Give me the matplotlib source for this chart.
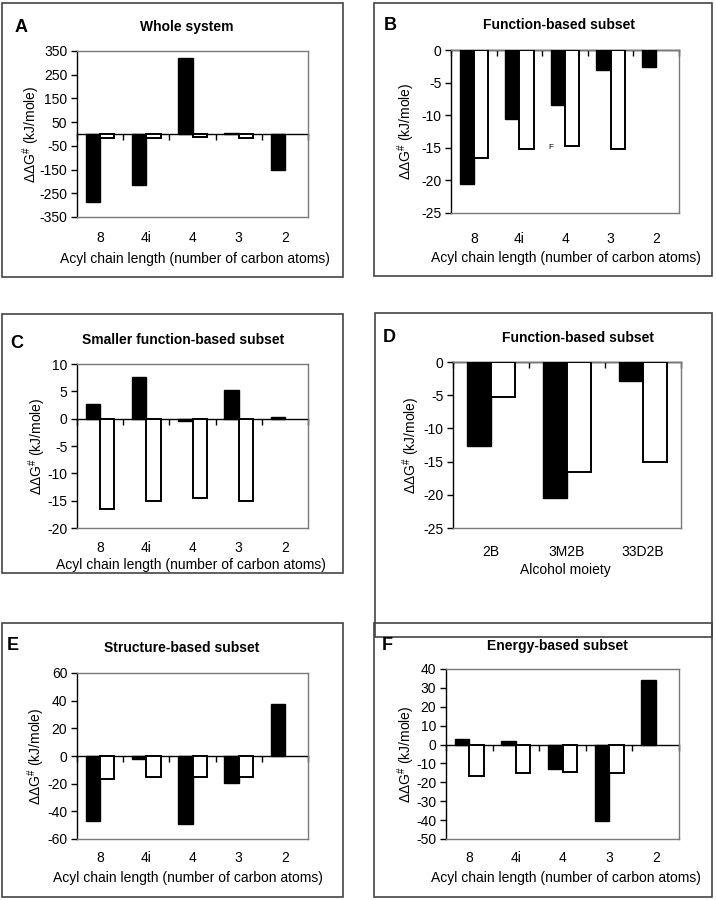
import numpy as np
import matplotlib
matplotlib.use('Agg')
import matplotlib.pyplot as plt
from matplotlib.patches import Rectangle

plt.rcParams['font.family'] = 'Liberation Sans'
plt.rcParams['font.size'] = 10
plt.rcParams['axes.unicode_minus'] = False
plt.rcParams['mathtext.fontset'] = 'custom'
plt.rcParams['mathtext.rm'] = 'Liberation Sans'
plt.rcParams['mathtext.it'] = 'Liberation Sans:italic'
plt.rcParams['mathtext.bf'] = 'Liberation Sans:bold'

nan = np.nan

# data
acyl = ['8', '4i', '4', '3', '2']
alcohol = ['2B', '3M2B', '33D2B']

a_black = [-287, -216, 320, 4, -152]
a_white = [-16.5, -15.2, -14.7, -15.2, nan]
b_black = [-20.6, -10.6, -8.4, -3.0, -2.6]
b_white = [-16.6, -15.2, -14.8, -15.2, nan]
c_black = [2.6, 7.6, -0.5, 5.2, 0.3]
c_white = [-16.5, -15.1, -14.6, -15.1, nan]
d_black = [-12.6, -20.5, -2.9]
d_white = [-5.2, -16.5, -15.1]
e_black = [-47, -2.4, -49.4, -19.4, 37.7]
e_white = [-16.3, -15.4, -14.9, -15.4, nan]
f_black = [2.9, 1.9, -12.8, -40.5, 34.4]
f_white = [-16.5, -15.1, -14.5, -15.1, nan]

W, H = 716, 900
fig = plt.figure(figsize=(W / 100, H / 100), dpi=100)


def rect(l, t, r, b):
    return [l / W, 1 - b / H, (r - l) / W, (b - t) / H]


def ftext(x, y, s, **kw):
    fig.text(x / W, 1 - y / H, s, ha='center', va='center', **kw)


ylab = r'$\Delta\Delta$G$^{\#}$ (kJ/mole)'
acyl_lab = 'Acyl chain length (number of carbon atoms)'

panels = [
    # letter, title, cats, black, white, yticks, plot box, frame box,
    # letter pos, title pos, xlabel, xlabel pos, tick pad, ylabel x
    ('A', 'Whole system', acyl, a_black, a_white, np.arange(-350, 351, 100),
     (77, 51, 308, 217), (2, 3, 343, 277), (21, 28), (187, 27), acyl_lab, (195, 259), 10, -0.152),
    ('B', 'Function-based subset', acyl, b_black, b_white, np.arange(-25, 1, 5),
     (451, 50, 679, 213), (374, 3, 712, 276), (390, 25), (559, 25), acyl_lab, (566, 258), 13.5, -0.15),
    ('C', 'Smaller function-based subset', acyl, c_black, c_white, np.arange(-20, 11, 5),
     (77, 364, 308, 528), (2, 314, 343, 573), (17, 344), (183, 340), acyl_lab, (191, 565), 9.5, -0.125),
    ('D', 'Function-based subset', alcohol, d_black, d_white, np.arange(-25, 1, 5),
     (453, 362, 681, 528), (375, 313, 712, 637), (389, 338), (578, 338), 'Alcohol moiety', (565, 570), 12, -0.135),
    ('E', 'Structure-based subset', acyl, e_black, e_white, np.arange(-60, 61, 20),
     (77, 673, 308, 839), (2, 623, 343, 897), (13, 646), (182, 648), acyl_lab, (188, 878), 8.5, -0.13),
    ('F', 'Energy-based subset', acyl, f_black, f_white, np.arange(-50, 41, 10),
     (446, 669, 679, 839), (374, 623, 712, 897), (387, 646), (557, 646), acyl_lab, (566, 878), 8.5, -0.125),
]

w = 0.31
for (letter, title, cats, black, white, yt, pbox, fbox, lpos, tpos,
     xlab, xpos, pad, ylx) in panels:
    ax = fig.add_axes(rect(*pbox))
    x = np.arange(len(cats))
    ax.bar(x - w / 2, black, w, color='black', edgecolor='black', lw=1.0, zorder=3)
    ax.bar(x + w / 2, white, w, color='white', edgecolor='black', lw=1.4, zorder=3)
    ax.set_xlim(-0.5, len(cats) - 0.5)
    ax.set_ylim(yt[0], yt[-1])
    ax.set_yticks(yt)
    ax.set_xticks(x, cats)
    ax.tick_params(axis='x', length=0, pad=pad, labelsize=10)
    ax.tick_params(axis='y', direction='out', length=4, width=1, pad=3, labelsize=10)
    for s in ['top', 'right', 'bottom']:
        ax.spines[s].set_color('#7a7a7a')
        ax.spines[s].set_linewidth(1.0)
    ax.spines['left'].set_color('black')
    ax.spines['left'].set_linewidth(1.0)
    ax.set_ylabel(ylab, fontsize=10)
    ax.yaxis.set_label_coords(ylx, 0.5)

    # category axis crossing at zero with boundary ticks
    sec = ax.secondary_xaxis(0, transform=ax.transData)
    sec.set_xticks(np.arange(len(cats) + 1) - 0.5)
    sec.set_xticklabels([])
    sec.tick_params(direction='out', length=4, width=1, color='black')
    for s in ['top', 'bottom']:
        sec.spines[s].set_color('black')
        sec.spines[s].set_linewidth(1.0)

    if letter == 'B':
        ax.text(1.69, -14.9, 'F', fontsize=6, ha='center', va='center')

    l, t, r, b = fbox
    fig.add_artist(Rectangle((l / W, 1 - b / H), (r - l) / W, (b - t) / H,
                             transform=fig.transFigure, fill=False,
                             edgecolor='#444444', lw=1.2))
    ftext(lpos[0], lpos[1], letter, fontsize=13, fontweight='bold')
    ftext(tpos[0], tpos[1], title, fontsize=10, fontweight='bold')
    ftext(xpos[0], xpos[1], xlab, fontsize=10)

fig.savefig('out.png', dpi=100)
